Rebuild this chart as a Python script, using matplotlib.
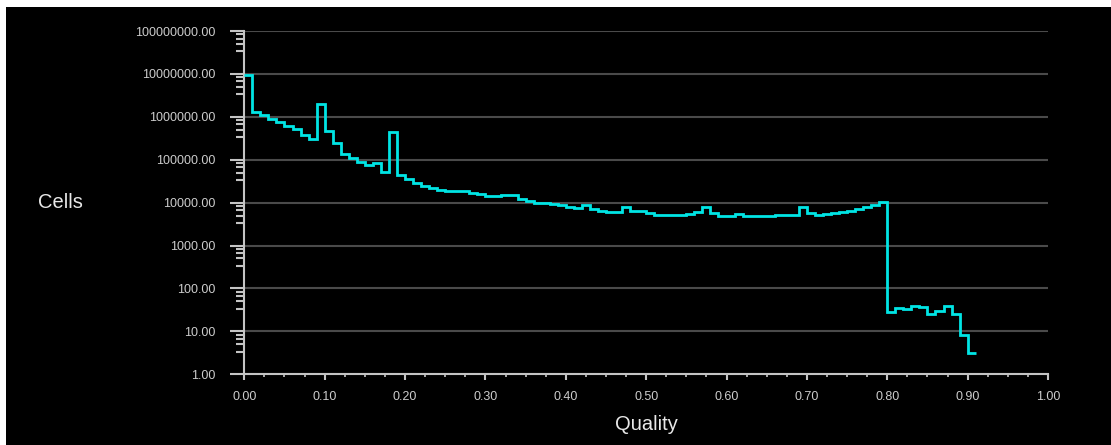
import numpy as np
import matplotlib
matplotlib.use("Agg")
from matplotlib import pyplot as plt
from matplotlib.patches import Rectangle
from matplotlib.ticker import LogLocator, FuncFormatter, MultipleLocator, NullFormatter

# Data: cell counts per quality bin (bins 0.01 wide, starting at 0.00)
bin_width = 0.01
cells = [
    9.6e6, 1.29e6, 1.13e6, 9.0e5, 7.4e5, 6.1e5, 5.1e5, 3.8e5, 3.1e5, 1.97e6,
    4.7e5, 2.4e5, 1.38e5, 1.07e5, 8.7e4, 7.5e4, 8.4e4, 5.3e4, 4.5e5, 4.4e4,
    3.6e4, 2.8e4, 2.5e4, 2.2e4, 2.0e4, 1.87e4, 1.87e4, 1.84e4, 1.71e4, 1.56e4,
    1.46e4, 1.40e4, 1.48e4, 1.48e4, 1.22e4, 1.11e4, 1.0e4, 9.8e3, 9.5e3, 8.8e3,
    8.1e3, 7.5e3, 8.8e3, 7.25e3, 6.5e3, 6.0e3, 6.1e3, 8.1e3, 6.5e3, 6.4e3,
    5.65e3, 5.26e3, 5.07e3, 5.07e3, 5.2e3, 5.45e3, 5.96e3, 7.8e3, 5.6e3, 5.0e3,
    5.0e3, 5.4e3, 4.9e3, 4.8e3, 4.8e3, 5.0e3, 5.1e3, 5.1e3, 5.1e3, 8.0e3,
    5.6e3, 5.1e3, 5.3e3, 5.6e3, 6.0e3, 6.4e3, 7.1e3, 7.8e3, 9.0e3, 1.04e4,
    28.7, 34.9, 33.1, 38.1, 36.8, 25.3, 29.2, 39.5, 24.8, 8.2,
    3.1,
]
x_ticks = [0.0, 0.1, 0.2, 0.3, 0.4, 0.5, 0.6, 0.7, 0.8, 0.9, 1.0]
y_ticks = [1, 10, 100, 1e3, 1e4, 1e5, 1e6, 1e7, 1e8]

edges = np.arange(len(cells) + 1) * bin_width

plt.rcParams['font.family'] = ['Liberation Sans', 'DejaVu Sans']

W, H = 1111, 445
fig = plt.figure(figsize=(W / 100, H / 100), dpi=100, facecolor='white')
# black panel, leaving a thin white strip on top and left
fig.add_artist(Rectangle((6 / W, 0), 1 - 6 / W, 1 - 7 / H, transform=fig.transFigure,
                         facecolor='black', edgecolor='none', zorder=-10))

ax = fig.add_axes([244.3 / W, 70.8 / H, (1048 - 244.3) / W, (374.2 - 31) / H])
ax.set_facecolor('black')

ax.stairs(cells, edges, baseline=None, color='#00e5e5', linewidth=2.0, zorder=3)

ax.set_yscale('log')
ax.set_xlim(0, 1)
ax.set_ylim(1, 1e8)

axis_col = '#c4c4c4'
label_col = '#cccccc'

for s in ['top', 'right']:
    ax.spines[s].set_visible(False)
for s in ['left', 'bottom']:
    ax.spines[s].set_color(axis_col)
    ax.spines[s].set_linewidth(1.5)

ax.set_yticks(y_ticks)
ax.yaxis.set_major_formatter(FuncFormatter(lambda v, p: f"{v:.2f}"))
ax.yaxis.set_minor_locator(LogLocator(base=10, subs=[10 / 3, 5, 20 / 3, 25 / 3]))
ax.yaxis.set_minor_formatter(NullFormatter())

ax.set_xticks(x_ticks)
ax.xaxis.set_major_formatter(FuncFormatter(lambda v, p: f"{v:.2f}"))
ax.xaxis.set_minor_locator(MultipleLocator(0.025))

ax.tick_params(axis='y', which='major', length=10, width=1.5, color=axis_col,
               labelcolor=label_col, labelsize=9, pad=10.5)
ax.tick_params(axis='y', which='minor', length=5.5, width=1.5, color=axis_col)
ax.tick_params(axis='x', which='major', length=4, width=1.5, color=axis_col,
               labelcolor=label_col, labelsize=9, pad=8)
ax.tick_params(axis='x', which='minor', length=2, width=1.2, color=axis_col)

ax.grid(axis='y', which='major', color='#4a4a4a', linewidth=1.5, zorder=0)
ax.set_axisbelow(True)

ax.set_xlabel('Quality', color='#e8e8e8', fontsize=14.5, labelpad=9)
ax.set_ylabel('Cells', color='#e8e8e8', fontsize=14.5, rotation=0, ha='center', va='center')
ax.yaxis.set_label_coords((60 - 244.3) / (1048 - 244.3), 0.5)

fig.savefig('out.png', dpi=100, facecolor=fig.get_facecolor())
